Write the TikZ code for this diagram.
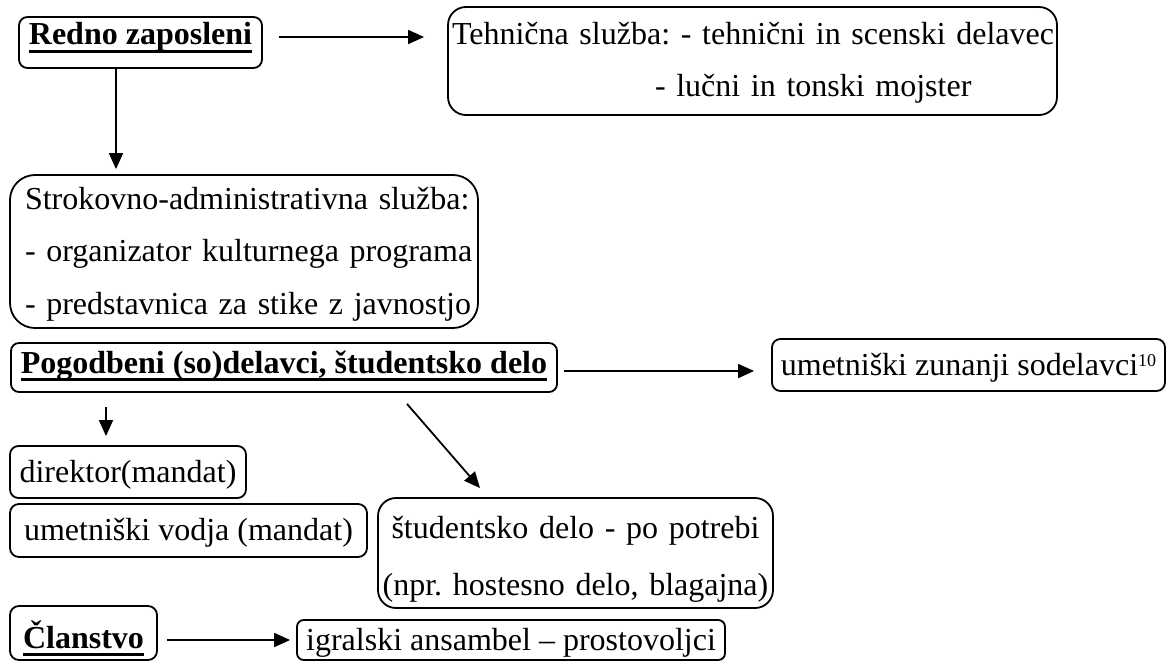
\documentclass[tikz,border=0pt]{standalone}
\usepackage{fontspec}
\setmainfont{Liberation Serif}
\usetikzlibrary{arrows.meta,calc}
\newcommand{\myul}[1]{\setbox0\hbox{#1}\rlap{\rule[-8pt]{\wd0}{3pt}}\box0}
\frenchspacing
\begin{document}
\begin{tikzpicture}[x=1pt,y=-1pt,
  every node/.style={font=\fontsize{32}{52}\selectfont},
  box/.style={draw, line width=1.8pt, inner sep=0pt},
  oneline/.style={text height=22pt, text depth=2pt},
  arr/.style={line width=1.8pt, -{Triangle[length=16pt,width=14pt]}}]
\useasboundingbox (0,0) rectangle (1167,661);

% boxes
\node[box, rounded corners=8.5pt, minimum width=243pt, minimum height=51pt,
      text height=22pt, text depth=17pt] (redno) at (140.5,42.5)
      {\myul{\bfseries Redno zaposleni}};
\node[box, rounded corners=18pt, minimum height=108pt, inner xsep=4pt,
      text width=601pt, align=left, text height=22pt, text depth=54pt] (tech) at (752.5,61)
      {\mbox{Tehnična služba: - tehnični in scenski delavec}\\\mbox{\hspace*{203pt}- lučni in tonski mojster}};
\node[box, rounded corners=25pt, minimum height=153pt, inner xsep=15pt,
      text width=438pt, align=left, text height=22pt, text depth=107pt,
      font=\fontsize{32}{52.5}\selectfont] (strok) at (244,251.5)
      {\mbox{Strokovno-administrativna služba:}\\\mbox{- organizator kulturnega programa}\\\mbox{- predstavnica za stike z javnostjo}};
\node[box, rounded corners=8pt, minimum width=546pt, minimum height=49pt,
      text height=22pt, text depth=11pt] (pog) at (284,367.5)
      {\myul{\bfseries Pogodbeni (so)delavci, študentsko delo}};
\node[box, oneline, rounded corners=8.5pt, minimum width=393pt, minimum height=52pt] (zun) at (968.5,365)
      {umetniški zunanji sodelavci\raisebox{9pt}{\fontsize{18}{18}\selectfont 10}};
\node[box, oneline, rounded corners=8.5pt, minimum width=236pt, minimum height=52pt] (dir) at (128,472)
      {direktor(mandat)};
\node[box, oneline, rounded corners=9pt, minimum width=357pt, minimum height=53pt] (vod) at (188.5,530.5)
      {umetniški vodja (mandat)};
\node[box, rounded corners=18pt, minimum height=110pt, text width=395pt, align=center,
      text height=22pt, text depth=52pt, font=\fontsize{32}{57}\selectfont] (stud) at (575.5,553)
      {\mbox{študentsko delo - po potrebi}\\\mbox{(npr. hostesno delo, blagajna)}};
\node[box, rounded corners=9pt, minimum width=147pt, minimum height=54pt,
      text height=30pt, text depth=0pt] (clan) at (83.5,633)
      {\myul{\bfseries Članstvo}};
\node[box, oneline, rounded corners=6.7pt, minimum width=428pt, minimum height=40pt] (igr) at (511,640)
      {igralski ansambel – prostovoljci};

% connectors
\draw[arr] ($(redno.east)+(16,-5.5)$) -- ($(tech.west |- redno.east)+(-23,-5.5)$);
\draw[arr] ($(redno.south)+(-24.5,0)$) -- ($(strok.north -| redno.south)+(-24.5,-5)$);
\draw[arr] ($(pog.east)+(6,3.5)$) -- ($(zun.west |- pog.east)+(-17,3.5)$);
\draw[arr] ($(pog.south)+(-178,14)$) -- ($(dir.north)+(-22,-9)$);
\draw[arr] ($(pog.south)+(123,11)$) -- ($(stud.north)+(-95.5,-9)$);
\draw[arr] ($(clan.east)+(9,7)$) -- ($(igr.west)+(-6,0)$);
\end{tikzpicture}
\end{document}
